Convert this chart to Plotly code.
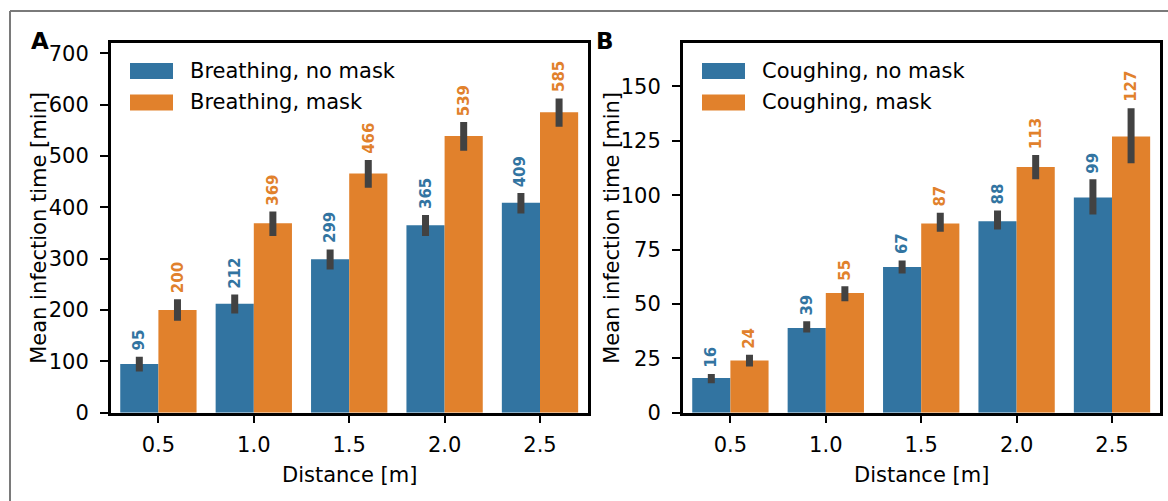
import plotly.graph_objects as go

# Distances (m) shared by both panels
distances = ["0.5", "1.0", "1.5", "2.0", "2.5"]

# Panel A: breathing
breath_nomask = [95, 212, 299, 365, 409]
breath_nomask_lo = [80, 193, 279, 344, 388]
breath_nomask_hi = [109, 230, 318, 385, 428]
breath_mask = [200, 369, 466, 539, 585]
breath_mask_lo = [179, 344, 438, 510, 557]
breath_mask_hi = [221, 392, 492, 566, 612]

# Panel B: coughing
cough_nomask = [16, 39, 67, 88, 99]
cough_nomask_lo = [13.5, 36.9, 64, 84.2, 91.1]
cough_nomask_hi = [17.8, 42, 70, 93, 107.3]
cough_mask = [24, 55, 87, 113, 127]
cough_mask_lo = [21.2, 51.2, 83.2, 107.3, 114.7]
cough_mask_hi = [26.6, 58.1, 91.9, 118.5, 140]

BLUE = "#3274a1"
ORANGE = "#e1812c"
ERR = "#424242"
FONT = "DejaVu Sans"
FS = 21  # common text size

W, H = 1168, 501
# panel rectangles in pixels: (left, right), shared top/bottom
PANEL_X = {"A": (110.7, 587.7), "B": (682.7, 1159.7)}
TOP, BOTTOM = 43.0, 412.7


def px(x):
    return x / W


def py(y):
    return 1 - y / H


fig = go.Figure()


def add_bars(xaxis, yaxis, vals, lo, hi, color, name):
    fig.add_trace(go.Bar(
        x=distances, y=vals, name=name, marker=dict(color=color, line=dict(width=0)),
        error_y=dict(type="data", symmetric=False,
                     array=[h - v for h, v in zip(hi, vals)],
                     arrayminus=[v - l for v, l in zip(vals, lo)],
                     color=ERR, thickness=7, width=0),
        xaxis=xaxis, yaxis=yaxis, showlegend=False,
    ))


add_bars("x", "y", breath_nomask, breath_nomask_lo, breath_nomask_hi, BLUE, "Breathing, no mask")
add_bars("x", "y", breath_mask, breath_mask_lo, breath_mask_hi, ORANGE, "Breathing, mask")
add_bars("x2", "y2", cough_nomask, cough_nomask_lo, cough_nomask_hi, BLUE, "Coughing, no mask")
add_bars("x2", "y2", cough_mask, cough_mask_lo, cough_mask_hi, ORANGE, "Coughing, mask")

annotations = []
shapes = []

# value labels above error bars
def value_labels(xref, yref, vals, hi, color, offset):
    for i, (v, h) in enumerate(zip(vals, hi)):
        annotations.append(dict(
            x=i + offset, y=h, xref=xref, yref=yref, text=f"<b>{v}</b>",
            textangle=-90, showarrow=False, xanchor="center", yanchor="bottom",
            yshift=4, font=dict(family=FONT, size=15, color=color),
        ))


value_labels("x", "y", breath_nomask, breath_nomask_hi, BLUE, -0.2)
value_labels("x", "y", breath_mask, breath_mask_hi, ORANGE, 0.2)
value_labels("x2", "y2", cough_nomask, cough_nomask_hi, BLUE, -0.2)
value_labels("x2", "y2", cough_mask, cough_mask_hi, ORANGE, 0.2)

# legends drawn as patches + text inside each panel
legend_items = {
    "A": [("Breathing, no mask", BLUE), ("Breathing, mask", ORANGE)],
    "B": [("Coughing, no mask", BLUE), ("Coughing, mask", ORANGE)],
}
for key, items in legend_items.items():
    left = PANEL_X[key][0]
    for row, (label, color) in enumerate(items):
        yc = 71 + row * 31.5
        shapes.append(dict(type="rect", xref="paper", yref="paper",
                           x0=px(left + 19.3), x1=px(left + 62.3),
                           y0=py(yc - 8), y1=py(yc + 8),
                           fillcolor=color, line=dict(width=0)))
        annotations.append(dict(x=px(left + 77), y=py(yc), xref="paper", yref="paper",
                                text=label, showarrow=False, xanchor="left", yanchor="middle",
                                font=dict(family=FONT, size=FS, color="black")))

# panel letters
annotations.append(dict(x=px(29), y=py(40.5), xref="paper", yref="paper", text="<b>A</b>",
                        showarrow=False, xanchor="left", yanchor="middle",
                        font=dict(family=FONT, size=23, color="black")))
annotations.append(dict(x=px(594), y=py(40.5), xref="paper", yref="paper", text="<b>B</b>",
                        showarrow=False, xanchor="left", yanchor="middle",
                        font=dict(family=FONT, size=23, color="black")))

# axis titles
for key, xc in (("A", 39), ("B", 612)):
    annotations.append(dict(x=px(xc), y=py((TOP + BOTTOM) / 2), xref="paper", yref="paper",
                            text="Mean infection time [min]", textangle=-90, showarrow=False,
                            xanchor="center", yanchor="middle",
                            font=dict(family=FONT, size=FS, color="black")))
    l, r = PANEL_X[key]
    annotations.append(dict(x=px((l + r) / 2), y=py(475), xref="paper", yref="paper",
                            text="Distance [m]", showarrow=False, xanchor="center", yanchor="middle",
                            font=dict(family=FONT, size=FS, color="black")))

# outer figure frame (top and left edges)
shapes.append(dict(type="line", xref="paper", yref="paper", x0=px(10), x1=px(1175),
                   y0=py(11), y1=py(11), line=dict(color="#7a7a7a", width=2)))
shapes.append(dict(type="line", xref="paper", yref="paper", x0=px(10), x1=px(10),
                   y0=py(11), y1=py(510), line=dict(color="#7a7a7a", width=2)))

axis_common = dict(showline=True, linecolor="black", linewidth=2.5, mirror=True,
                   ticks="outside", ticklen=8, tickwidth=2, tickcolor="black",
                   showgrid=False, zeroline=False, automargin=False,
                   tickfont=dict(family=FONT, size=FS, color="black"))

fig.update_layout(
    width=W, height=H,
    margin=dict(l=0, r=0, t=0, b=0),
    paper_bgcolor="white", plot_bgcolor="white",
    barmode="group", bargap=0.2, bargroupgap=0,
    showlegend=False,
    xaxis=dict(domain=[px(PANEL_X["A"][0]), px(PANEL_X["A"][1])], anchor="y",
               type="category", range=[-0.5, 4.5], ticklabelstandoff=3, **axis_common),
    yaxis=dict(domain=[py(BOTTOM), py(TOP)], anchor="x", range=[0, 720],
               tickvals=[0, 100, 200, 300, 400, 500, 600, 700], ticklabelstandoff=7, **axis_common),
    xaxis2=dict(domain=[px(PANEL_X["B"][0]), px(PANEL_X["B"][1])], anchor="y2",
                type="category", range=[-0.5, 4.5], ticklabelstandoff=3, **axis_common),
    yaxis2=dict(domain=[py(BOTTOM), py(TOP)], anchor="x2", range=[0, 170],
                tickvals=[0, 25, 50, 75, 100, 125, 150], ticklabelstandoff=7, **axis_common),
    annotations=annotations,
    shapes=shapes,
)

fig.write_html("out.html")
